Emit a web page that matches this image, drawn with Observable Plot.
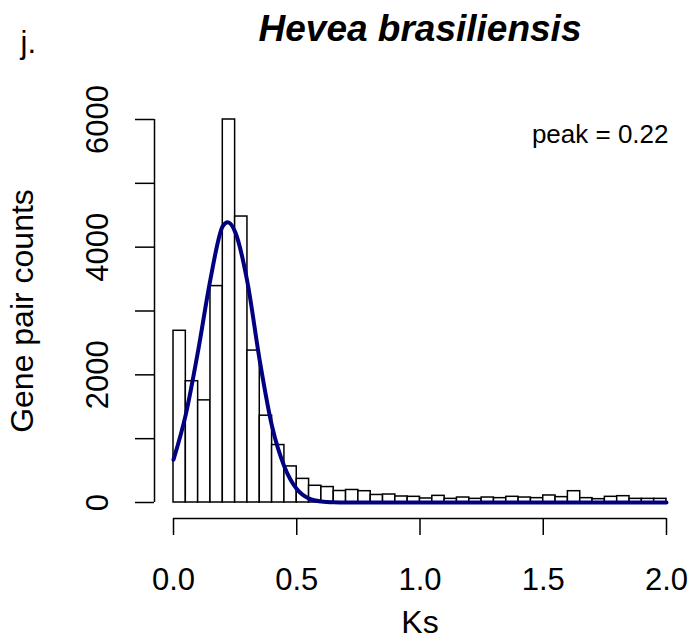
<!DOCTYPE html>
<html>
<head>
<meta charset="utf-8">
<script src="https://cdn.jsdelivr.net/npm/d3@7"></script>
<script src="https://cdn.jsdelivr.net/npm/@observablehq/plot@0.6"></script>
<style>
  html, body { margin: 0; padding: 0; background: #ffffff; }
</style>
</head>
<body>
<div id="chart"></div>
<script>
// Histogram of Ks values (bin width 0.05, 0 to 2.0)
const binWidth = 0.05;
const counts = [
  2690, 1900, 1600, 3390, 6000, 4480, 2380, 1360, 900, 565,
  370, 262, 242, 180, 196, 177, 118, 125, 94, 89,
  63, 104, 57, 78, 57, 78, 68, 89, 78, 68,
  110, 84, 177, 68, 52, 89, 99, 57, 57, 57
];
// Fitted curve, points
const curveKs = [0, 0.05, 0.1, 0.15, 0.2, 0.22, 0.25, 0.3, 0.35, 0.4, 0.45, 0.5, 0.55, 0.6, 0.65, 0.7, 1.0, 1.5, 2.0];
const curveCounts = [670, 1380, 2380, 3500, 4330, 4390, 4240, 3450, 2220, 1190, 560, 210, 60, 15, 3, 0, 0, 0, 0];
const xTicks = [0, 0.5, 1.0, 1.5, 2.0];
const yTicks = [0, 1000, 2000, 3000, 4000, 5000, 6000];
const yLabelEvery = 2000;
const titleText = "Hevea brasiliensis";
const panelTag = "j.";
const peakText = "peak = 0.22";
const xTitle = "Ks";
const yTitle = "Gene pair counts";

const bins = counts.map((c, i) => ({x1: i * binWidth, x2: (i + 1) * binWidth, count: c}));
const curve = curveKs.map((k, i) => ({ks: k, count: curveCounts[i]}));

const font = "'Liberation Sans', Arial, Helvetica, sans-serif";
const ink = "#000000";

const chart = Plot.plot({
  width: 694,
  height: 644,
  marginLeft: 173,
  marginRight: 28,
  marginTop: 119,
  marginBottom: 142,
  style: {fontFamily: font, background: "#ffffff", color: ink, overflow: "visible"},
  x: {domain: [0, 2]},
  y: {domain: [0, 6000]},
  marks: [
    Plot.rect(bins, {x1: "x1", x2: "x2", y1: 0, y2: "count", fill: "#ffffff", stroke: ink, strokeWidth: 1.5}),
    Plot.line(curve, {x: "ks", y: "count", stroke: "#000080", strokeWidth: 4, curve: "monotone-x"}),
    // y axis
    Plot.ruleX([0], {y1: 0, y2: 6000, dx: -19, stroke: ink, strokeWidth: 1.5}),
    Plot.axisY({ticks: yTicks, tickFormat: d => (d % yLabelEvery === 0 ? String(d) : ""),
      tickSize: 19, dx: -19, tickRotate: -90, tickPadding: 28, fontSize: 31, label: null,
      stroke: ink, strokeWidth: 1.5}),
    // x axis
    Plot.ruleY([0], {x1: 0, x2: 2, dy: 16, stroke: ink, strokeWidth: 1.5}),
    Plot.axisX({ticks: xTicks, tickFormat: d => d.toFixed(1), tickSize: 17, dy: 16,
      tickPadding: 32, fontSize: 31, label: null, stroke: ink, strokeWidth: 1.5}),
    // titles
    Plot.text([xTitle], {text: d => d, frameAnchor: "bottom", dy: 130, textAnchor: "middle", lineAnchor: "bottom", fontSize: 32, fill: ink}),
    Plot.text([yTitle], {text: d => d, frameAnchor: "left", dx: -141, rotate: -90, textAnchor: "middle", lineAnchor: "bottom", fontSize: 32, fill: ink}),
    Plot.text([titleText], {text: d => d, frameAnchor: "top", dy: -79, textAnchor: "middle", lineAnchor: "bottom", fontSize: 37, fontWeight: "bold", fontStyle: "italic", fill: ink}),
    Plot.text([panelTag], {text: d => d, frameAnchor: "top-left", dx: -153, dy: -67, textAnchor: "start", lineAnchor: "bottom", fontSize: 31, fill: ink}),
    Plot.text([peakText], {text: d => d, frameAnchor: "top-right", dx: 2, dy: 15, textAnchor: "end", lineAnchor: "middle", fontSize: 26, fill: ink})
  ]
});
document.getElementById("chart").appendChild(chart);
</script>
</body>
</html>
